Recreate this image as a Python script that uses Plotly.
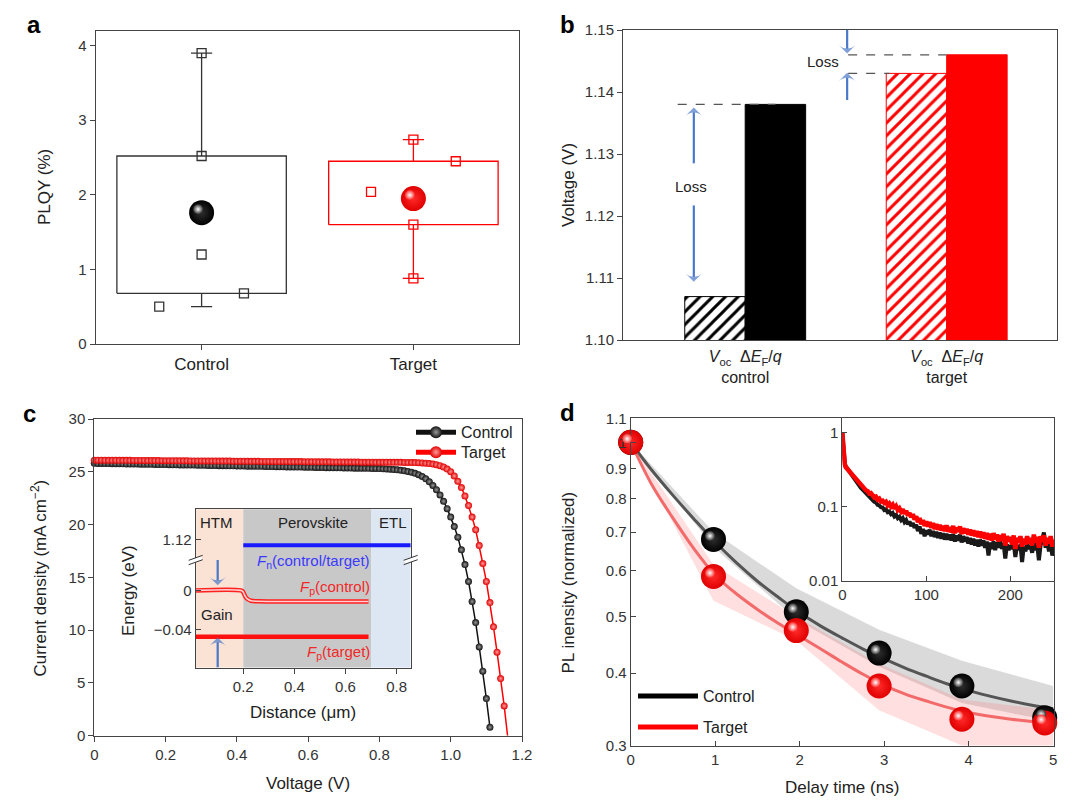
import math
import plotly.graph_objects as go

# page body has an 8 px margin; the figure is sized to fit the 1080x806 window
OX, OY = 8, 8
FW, FH = 1072, 798
FONT = "Liberation Sans, Arial, sans-serif"
INK = "#222222"
AXC = "#444444"
RED = "#ff0000"
BLUE_ARROW = "#4a78c8"

# ---------------- Panel a : PLQY ----------------
groups = ["Control", "Target"]
box_low = [0.68, 1.60]
box_high = [2.52, 2.45]
whisker_low = [0.50, 0.88]
whisker_high = [3.90, 2.74]
plqy_mean = [1.76, 1.95]
pts_dx = [[0.0, 0.0, 0.0, -0.2, 0.2], [0.0, 0.2, -0.2, 0.0, 0.0]]
pts_y = [[3.90, 2.52, 1.20, 0.50, 0.68], [2.74, 2.45, 2.04, 1.60, 0.88]]

# ---------------- Panel b : Voc vs dEF/q ----------------
voc = [1.107, 1.143]
def_q = [1.138, 1.146]

# ---------------- Panel c : J-V ----------------
jv_step = 0.01
jv_control = [
    25.80, 25.79, 25.79, 25.78, 25.78, 25.77, 25.76, 25.76, 25.75, 25.74,
    25.74, 25.73, 25.73, 25.72, 25.71, 25.71, 25.70, 25.69, 25.69, 25.68,
    25.68, 25.67, 25.66, 25.66, 25.65, 25.64, 25.64, 25.63, 25.63, 25.62,
    25.61, 25.61, 25.60, 25.59, 25.59, 25.58, 25.58, 25.57, 25.56, 25.56,
    25.55, 25.54, 25.54, 25.53, 25.53, 25.52, 25.51, 25.51, 25.50, 25.49,
    25.49, 25.48, 25.48, 25.47, 25.46, 25.46, 25.45, 25.44, 25.44, 25.43,
    25.43, 25.42, 25.41, 25.41, 25.40, 25.39, 25.39, 25.38, 25.38, 25.37,
    25.36, 25.36, 25.35, 25.34, 25.34, 25.33, 25.33, 25.32, 25.31, 25.31,
    25.30, 25.28, 25.26, 25.24, 25.21, 25.18, 25.14, 25.09, 25.03, 24.95,
    24.85, 24.72, 24.55, 24.33, 24.05, 23.70, 23.30, 22.80, 22.20, 21.50,
    20.70, 19.80, 18.80, 17.60, 16.20, 14.60, 12.70, 10.70, 8.40, 6.10,
    3.50, 0.78]
jv_target = [
    26.10, 26.10, 26.10, 26.09, 26.09, 26.09, 26.09, 26.08, 26.08, 26.08,
    26.08, 26.07, 26.07, 26.07, 26.07, 26.06, 26.06, 26.06, 26.06, 26.05,
    26.05, 26.05, 26.05, 26.04, 26.04, 26.04, 26.04, 26.03, 26.03, 26.03,
    26.03, 26.02, 26.02, 26.02, 26.02, 26.01, 26.01, 26.01, 26.01, 26.00,
    26.00, 26.00, 26.00, 25.99, 25.99, 25.99, 25.99, 25.98, 25.98, 25.98,
    25.98, 25.97, 25.97, 25.97, 25.97, 25.96, 25.96, 25.96, 25.96, 25.95,
    25.95, 25.95, 25.95, 25.94, 25.94, 25.94, 25.94, 25.93, 25.93, 25.93,
    25.93, 25.92, 25.92, 25.92, 25.92, 25.91, 25.91, 25.91, 25.91, 25.90,
    25.90, 25.90, 25.90, 25.89, 25.89, 25.89, 25.89, 25.88, 25.88, 25.88,
    25.87, 25.86, 25.84, 25.81, 25.78, 25.73, 25.67, 25.58, 25.45, 25.25,
    25.00, 24.60, 24.10, 23.50, 22.70, 21.80, 20.70, 19.50, 18.00, 16.30,
    14.60, 12.60, 10.30, 7.90, 5.40, 2.80, -0.16]

# ---------------- Panel c inset : quasi-Fermi levels ----------------
layer_names = ["HTM", "Perovskite", "ETL"]
layer_edges = [0.0, 0.2, 0.7, 0.855]
layer_colors = ["#fae3d5", "#c8c8c8", "#dce7f3"]
break_shift = 1.0684            # upper (broken) segment shown shifted down
inset_tick_E = [1.12, 0.0, -0.04]
inset_tick_text = ["1.12", "0", "\u22120.04"]
fn_x = [0.2, 0.855]
fn_E = [1.114, 1.114]
fpc_x = [0.014, 0.19, 0.198, 0.204, 0.21, 0.218, 0.23, 0.26, 0.40, 0.69]
fpc_E = [0.0, 0.0, -0.001, -0.004, -0.007, -0.009, -0.0105, -0.011, -0.0112, -0.0112]
fpt_x = [0.014, 0.69]
fpt_E = [-0.047, -0.047]

# ---------------- Panel d : TRPL ----------------
delay = [0, 0.98, 1.96, 2.94, 3.92, 4.9]
pl_control = [1.0, 0.68, 0.51, 0.433, 0.38, 0.335]
pl_target = [1.0, 0.587, 0.4735, 0.38, 0.333, 0.328]
fit_t = [0, 0.25, 0.5, 0.75, 1, 1.25, 1.5, 1.75, 2, 2.25, 2.5, 2.75, 3, 3.25,
         3.5, 3.75, 4, 4.25, 4.5, 4.75, 5]
fit_control = [1.0, 0.895, 0.81, 0.737, 0.673, 0.620, 0.576, 0.540, 0.508, 0.482,
               0.460, 0.440, 0.423, 0.408, 0.395, 0.383, 0.373, 0.365, 0.358, 0.352, 0.347]
fit_target = [1.0, 0.845, 0.74, 0.655, 0.59, 0.548, 0.515, 0.487, 0.463, 0.440,
              0.418, 0.398, 0.381, 0.368, 0.358, 0.349, 0.342, 0.337, 0.333, 0.330, 0.327]
band_t = [0, 0.98, 1.96, 2.94, 3.92, 5.0]
band_control_hi = [1.0, 0.70, 0.56, 0.475, 0.42, 0.38]
band_control_lo = [1.0, 0.66, 0.495, 0.41, 0.355, 0.33]
band_target_hi = [1.0, 0.615, 0.50, 0.415, 0.36, 0.345]
band_target_lo = [1.0, 0.533, 0.455, 0.345, 0.30, 0.285]
d_ticks = [0.3, 0.4, 0.5, 0.6, 0.7, 0.8, 0.9, 1.0, 1.1]
d_ticktext = ["0.3", "0.4", "0.5", "0.6", "0.7", "0.8", "0.9", "1", "1.1"]

# inset d: long-time decay (ns, normalized)
decay_t_early = [0, 0.5, 1, 1.5, 2, 3, 4]
decay_step = 2
decay_t0 = 6
decay_target_early = [1.00, 0.78, 0.60, 0.49, 0.43, 0.37, 0.34]
decay_control_early = [1.00, 0.80, 0.62, 0.50, 0.44, 0.38, 0.35]
decay_target = [
    0.320, 0.300, 0.285, 0.262, 0.250, 0.232, 0.220, 0.205, 0.198, 0.183,
    0.178, 0.166, 0.162, 0.150, 0.152, 0.140, 0.133, 0.136, 0.124, 0.128,
    0.117, 0.120, 0.112, 0.116, 0.104, 0.110, 0.100, 0.106, 0.094, 0.101,
    0.090, 0.095, 0.086, 0.092, 0.080, 0.088, 0.076, 0.082, 0.072, 0.079,
    0.067, 0.074, 0.062, 0.070, 0.058, 0.066, 0.055, 0.063, 0.054, 0.062,
    0.052, 0.060, 0.050, 0.058, 0.049, 0.057, 0.048, 0.055, 0.047, 0.056,
    0.046, 0.053, 0.045, 0.055, 0.044, 0.052, 0.046, 0.054, 0.043, 0.051,
    0.044, 0.050, 0.042, 0.049, 0.041, 0.048, 0.040, 0.047, 0.039, 0.046,
    0.038, 0.045, 0.037, 0.044, 0.036, 0.043, 0.035, 0.044, 0.036, 0.042,
    0.034, 0.041, 0.035, 0.043, 0.030, 0.040, 0.034, 0.039, 0.031, 0.041,
    0.027, 0.038, 0.033, 0.040, 0.029, 0.037, 0.031, 0.040, 0.032, 0.038,
    0.030, 0.042, 0.033, 0.039, 0.028, 0.040, 0.034, 0.041, 0.030, 0.038,
    0.032, 0.040, 0.029, 0.036]
decay_control = [
    0.330, 0.305, 0.280, 0.258, 0.240, 0.222, 0.205, 0.193, 0.180, 0.170,
    0.160, 0.150, 0.143, 0.134, 0.130, 0.122, 0.116, 0.114, 0.106, 0.104,
    0.098, 0.097, 0.090, 0.092, 0.084, 0.086, 0.079, 0.082, 0.074, 0.077,
    0.070, 0.073, 0.066, 0.070, 0.062, 0.066, 0.058, 0.063, 0.055, 0.060,
    0.052, 0.057, 0.047, 0.054, 0.043, 0.050, 0.040, 0.048, 0.042, 0.049,
    0.040, 0.047, 0.039, 0.046, 0.038, 0.045, 0.037, 0.044, 0.036, 0.043,
    0.036, 0.042, 0.035, 0.043, 0.034, 0.041, 0.035, 0.042, 0.033, 0.040,
    0.034, 0.039, 0.032, 0.038, 0.031, 0.037, 0.030, 0.036, 0.029, 0.036,
    0.030, 0.035, 0.028, 0.034, 0.022, 0.033, 0.027, 0.034, 0.026, 0.033,
    0.028, 0.035, 0.027, 0.032, 0.020, 0.031, 0.026, 0.030, 0.027, 0.033,
    0.021, 0.030, 0.026, 0.031, 0.018, 0.029, 0.025, 0.032, 0.027, 0.030,
    0.024, 0.033, 0.026, 0.031, 0.019, 0.030, 0.036, 0.045, 0.028, 0.034,
    0.025, 0.031, 0.022, 0.029]


# ---------------- helpers (window pixels -> paper fractions) ----------------
def px(x):
    return (x - OX) / FW


def py(y):
    return 1 - (y - OY) / FH


def dom_x(a, b):
    return [px(a), px(b)]


def dom_y(top, bot):
    return [py(bot), py(top)]


def axis(**kw):
    base = dict(showline=True, linecolor=AXC, linewidth=1, mirror=True,
                showgrid=False, zeroline=False, ticks="outside", ticklen=5,
                tickcolor=AXC, tickwidth=1,
                tickfont=dict(size=15, color="#333333", family=FONT))
    base.update(kw)
    return base


fig = go.Figure()

# ================= Panel a =================
a_cols = ["#333333", RED]
a_sphere = [("#000000", "#2e2e2e"), ("#e00000", "#ff2a2a")]
for i, g in enumerate(groups):
    c = a_cols[i]
    lo, hi = box_low[i], box_high[i]
    fig.add_trace(go.Scatter(
        x=[i - 0.4, i + 0.4, i + 0.4, i - 0.4, i - 0.4], y=[lo, lo, hi, hi, lo],
        mode="lines", line=dict(color=c, width=1.3), showlegend=False,
        hoverinfo="skip", xaxis="x", yaxis="y"))
    wl, wh = whisker_low[i], whisker_high[i]
    fig.add_trace(go.Scatter(
        x=[i, i, None, i, i, None, i - 0.05, i + 0.05, None, i - 0.05, i + 0.05],
        y=[hi, wh, None, lo, wl, None, wh, wh, None, wl, wl],
        mode="lines", line=dict(color=c, width=1.3), showlegend=False,
        hoverinfo="skip", xaxis="x", yaxis="y"))
    fig.add_trace(go.Scatter(
        x=[i + d for d in pts_dx[i]], y=pts_y[i], mode="markers",
        marker=dict(symbol="square-open", size=9, color=c, line=dict(width=1.3, color=c)),
        showlegend=False, xaxis="x", yaxis="y", cliponaxis=False))
    edge, centre = a_sphere[i]
    fig.add_trace(go.Scatter(
        x=[i], y=[plqy_mean[i]], mode="markers",
        marker=dict(size=25, color=edge, gradient=dict(type="radial", color=centre),
                    line=dict(width=0)),
        showlegend=False, xaxis="x", yaxis="y", cliponaxis=False))
    fig.add_trace(go.Scatter(
        x=[i], y=[plqy_mean[i]], mode="markers",
        marker=dict(size=10, color=centre, gradient=dict(type="radial", color="#ffffff"),
                    line=dict(width=0)),
        showlegend=False, xaxis="x7", yaxis="y7", cliponaxis=False, hoverinfo="skip"))

# ================= Panel b =================
b_cols = ["#000000", RED]
fig.add_trace(go.Bar(
    x=[0, 1], y=voc, width=0.3, offset=-0.3, xaxis="x2", yaxis="y2",
    marker=dict(color=b_cols, line=dict(color=b_cols, width=1),
                pattern=dict(shape="/", fgcolor="#ffffff", bgcolor=b_cols,
                             size=9, solidity=0.33, fillmode="replace")),
    showlegend=False, name="Voc"))
fig.add_trace(go.Bar(
    x=[0, 1], y=def_q, width=0.3, offset=0.0, xaxis="x2", yaxis="y2",
    marker=dict(color=b_cols, line=dict(color=b_cols, width=1)),
    showlegend=False, name="dEF/q"))
fig.add_trace(go.Scatter(
    x=[-0.335, 0.15, None, 0.511, 1.0, None, 0.511, 0.716],
    y=[def_q[0], def_q[0], None, def_q[1], def_q[1], None, voc[1], voc[1]],
    mode="lines", line=dict(color="#555555", width=1.2, dash="dash"),
    showlegend=False, hoverinfo="skip", xaxis="x2", yaxis="y2"))


def arrow(xt, yt, xh, yh, xa, ya):
    fig.add_trace(go.Scatter(
        x=[xt, xh], y=[yt, yh], mode="lines+markers",
        line=dict(color=BLUE_ARROW, width=2.2),
        marker=dict(symbol="arrow-wide", angleref="previous", size=[0, 12],
                    color=BLUE_ARROW, line=dict(width=0)),
        showlegend=False, hoverinfo="skip", xaxis=xa, yaxis=ya, cliponaxis=False))


arrow(-0.255, 1.1285, -0.255, 1.1375, "x2", "y2")
arrow(-0.255, 1.1217, -0.255, 1.1094, "x2", "y2")
arrow(0.506, 1.1500, 0.506, 1.1462, "x2", "y2")
arrow(0.506, 1.1387, 0.506, 1.1431, "x2", "y2")

# ================= Panel c =================
vc = [round(i * jv_step, 2) for i in range(len(jv_control))]
vt = [round(i * jv_step, 2) for i in range(len(jv_target))]
fig.add_trace(go.Scatter(
    x=vc, y=jv_control, mode="lines+markers", name="Control",
    line=dict(color="#111111", width=1.5),
    marker=dict(size=7, color="#111111", gradient=dict(type="radial", color="#9a9a9a")),
    xaxis="x3", yaxis="y3", legend="legend", cliponaxis=False))
fig.add_trace(go.Scatter(
    x=vt, y=jv_target, mode="lines+markers", name="Target",
    line=dict(color=RED, width=1.5),
    marker=dict(size=7, color="#e00000", gradient=dict(type="radial", color="#ff9a9a")),
    xaxis="x3", yaxis="y3", legend="legend4", cliponaxis=False))

# ================= Panel c inset =================
fig.add_trace(go.Scatter(
    x=fn_x, y=[e - break_shift for e in fn_E], mode="lines",
    line=dict(color="#1a1aff", width=4), showlegend=False, xaxis="x4", yaxis="y4"))
fig.add_trace(go.Scatter(
    x=fpc_x, y=fpc_E, mode="lines", line=dict(color="#ff2020", width=4.5, shape="spline"),
    showlegend=False, xaxis="x4", yaxis="y4"))
fig.add_trace(go.Scatter(
    x=fpc_x, y=fpc_E, mode="lines", line=dict(color="#ffd0d0", width=1.6, shape="spline"),
    showlegend=False, xaxis="x4", yaxis="y4"))
fig.add_trace(go.Scatter(
    x=fpt_x, y=fpt_E, mode="lines", line=dict(color="#ff1010", width=4.5),
    showlegend=False, xaxis="x4", yaxis="y4"))
arrow(0.1, 0.0306, 0.1, 0.0051, "x4", "y4")
arrow(0.1, -0.078, 0.1, -0.0476, "x4", "y4")

# ================= Panel d =================
fig.add_trace(go.Scatter(
    x=band_t + band_t[::-1], y=band_control_hi + band_control_lo[::-1],
    fill="toself", fillcolor="rgba(140,140,140,0.32)", line=dict(width=0),
    mode="lines", showlegend=False, hoverinfo="skip", xaxis="x5", yaxis="y5"))
fig.add_trace(go.Scatter(
    x=band_t + band_t[::-1], y=band_target_hi + band_target_lo[::-1],
    fill="toself", fillcolor="rgba(255,110,110,0.22)", line=dict(width=0),
    mode="lines", showlegend=False, hoverinfo="skip", xaxis="x5", yaxis="y5"))
fig.add_trace(go.Scatter(
    x=fit_t, y=fit_control, mode="lines", line=dict(color="#555555", width=3, shape="spline"),
    showlegend=False, xaxis="x5", yaxis="y5"))
fig.add_trace(go.Scatter(
    x=fit_t, y=fit_target, mode="lines", line=dict(color="#f26a6a", width=3, shape="spline"),
    showlegend=False, xaxis="x5", yaxis="y5"))
for ys, edge, centre in [(pl_control, "#000000", "#2e2e2e"), (pl_target, "#e00000", "#ff2a2a")]:
    fig.add_trace(go.Scatter(
        x=delay, y=ys, mode="markers",
        marker=dict(size=25, color=edge, gradient=dict(type="radial", color=centre),
                    line=dict(width=0)),
        showlegend=False, xaxis="x5", yaxis="y5", cliponaxis=False))
    fig.add_trace(go.Scatter(
        x=delay, y=ys, mode="markers",
        marker=dict(size=10, color=centre, gradient=dict(type="radial", color="#ffffff"),
                    line=dict(width=0)),
        showlegend=False, xaxis="x8", yaxis="y8", cliponaxis=False, hoverinfo="skip"))
fig.add_trace(go.Scatter(x=[None], y=[None], mode="lines", name="Control",
                         line=dict(color="#000000", width=5), xaxis="x5", yaxis="y5",
                         legend="legend2"))
fig.add_trace(go.Scatter(x=[None], y=[None], mode="lines", name="Target",
                         line=dict(color=RED, width=5), xaxis="x5", yaxis="y5",
                         legend="legend3"))

# ================= Panel d inset =================
t_ctrl = decay_t_early + [decay_t0 + decay_step * i for i in range(len(decay_control))]
t_tgt = decay_t_early + [decay_t0 + decay_step * i for i in range(len(decay_target))]
fig.add_trace(go.Scatter(
    x=t_ctrl, y=decay_control_early + decay_control, mode="lines",
    line=dict(color="#1a1a1a", width=4), showlegend=False, xaxis="x6", yaxis="y6"))
fig.add_trace(go.Scatter(
    x=t_tgt, y=decay_target_early + decay_target, mode="lines",
    line=dict(color=RED, width=4.5), showlegend=False, xaxis="x6", yaxis="y6"))

# ================= Axes =================
a_dx, a_dy = dom_x(95.7, 519.3), dom_y(30.7, 344)
d_dx, d_dy = dom_x(630.7, 1054), dom_y(418.3, 745.5)
sx, sy = 3.5 / FW, 3.5 / FH
layout_axes = dict(
    xaxis=axis(domain=a_dx, range=[-0.5, 1.5], tickvals=[0, 1], ticktext=groups,
               tickfont=dict(size=17, color=INK, family=FONT), anchor="y"),
    yaxis=axis(domain=a_dy, range=[0, 4.2], tickvals=[0, 1, 2, 3, 4], anchor="x"),
    xaxis2=axis(domain=dom_x(623, 1057), range=[-0.6065, 1.5475], tickvals=[0, 1],
                ticktext=[f"<i>V</i><sub>oc</sub>  Δ<i>E</i><sub>F</sub>/<i>q</i><br>{g.lower()}"
                          for g in groups],
                ticks="outside", ticklen=2, tickcolor="rgba(0,0,0,0)",
                tickfont=dict(size=16, color=INK, family=FONT), anchor="y2"),
    yaxis2=axis(domain=dom_y(30, 340), range=[1.10, 1.15], dtick=0.01, tickformat=".2f",
                anchor="x2"),
    xaxis3=axis(domain=dom_x(94.3, 522), range=[0, 1.2],
                tickvals=[0, 0.2, 0.4, 0.6, 0.8, 1.0, 1.2],
                ticktext=["0", "0.2", "0.4", "0.6", "0.8", "1.0", "1.2"], anchor="y3"),
    yaxis3=axis(domain=dom_y(419, 735.5), range=[0, 30], dtick=5, anchor="x3"),
    xaxis4=axis(domain=dom_x(195.7, 410.7), range=[0.014, 0.855],
                tickvals=[0.2, 0.4, 0.6, 0.8], anchor="y4"),
    yaxis4=axis(domain=dom_y(509.3, 667.5), range=[-0.078, 0.082],
                tickvals=[e - break_shift if e > 0.5 else e for e in inset_tick_E],
                ticktext=inset_tick_text, ticks="inside", anchor="x4"),
    xaxis5=axis(domain=d_dx, range=[0, 5.01], dtick=1, ticks="inside", anchor="y5"),
    yaxis5=axis(domain=d_dy, type="log", range=[math.log10(0.3), math.log10(1.1)],
                tickvals=d_ticks, ticktext=d_ticktext, ticks="inside", anchor="x5"),
    xaxis6=axis(domain=dom_x(842.3, 1054), range=[0, 252], tickvals=[0, 100, 200],
                ticks="inside", anchor="y6"),
    yaxis6=axis(domain=dom_y(418.3, 581), type="log", range=[-2, math.log10(1.54)],
                tickvals=[0.01, 0.1, 1], ticktext=["0.01", "0.1", "1"], ticks="inside",
                anchor="x6"),
    xaxis7=dict(domain=[a_dx[0] - sx, a_dx[1] - sx], range=[-0.5, 1.5], visible=False,
                anchor="y7"),
    yaxis7=dict(domain=[a_dy[0] + sy, a_dy[1] + sy], range=[0, 4.2], visible=False,
                anchor="x7"),
    xaxis8=dict(domain=[d_dx[0] - sx, d_dx[1] - sx], range=[0, 5.01], visible=False,
                anchor="y8"),
    yaxis8=dict(domain=[d_dy[0] + sy, d_dy[1] + sy], type="log",
                range=[math.log10(0.3), math.log10(1.1)], visible=False, anchor="x8"),
)

# ================= Shapes =================
shapes = []
for k in range(len(layer_names)):
    shapes.append(dict(type="rect", xref="x4", yref="y4 domain",
                       x0=max(layer_edges[k], 0.014), x1=layer_edges[k + 1], y0=0, y1=1,
                       fillcolor=layer_colors[k], line=dict(width=0), layer="below"))
for bx in (195.7, 410.7):
    by = 560
    shapes.append(dict(type="line", xref="paper", yref="paper",
                       x0=px(bx - 6), y0=py(by + 2.2), x1=px(bx + 6), y1=py(by - 2.2),
                       line=dict(color="#ffffff", width=4), layer="above"))
    for off in (-2.2, 2.2):
        shapes.append(dict(type="line", xref="paper", yref="paper",
                           x0=px(bx - 7), y0=py(by + 2.5 + off), x1=px(bx + 7),
                           y1=py(by - 2.5 + off), line=dict(color="#333333", width=1),
                           layer="above"))

# ================= Annotations =================
ann = []


def text(x, y, s, size=17, color=INK, angle=0, xanchor="center", bold=False):
    ann.append(dict(x=px(x), y=py(y), xref="paper", yref="paper", text=s, showarrow=False,
                    textangle=angle, xanchor=xanchor, yanchor="middle",
                    font=dict(size=size, color=color, family=FONT,
                              weight="bold" if bold else "normal")))


text(34, 24, "a", size=24, color="#000", bold=True)
text(567, 24, "b", size=24, color="#000", bold=True)
text(29, 413, "c", size=24, color="#000", bold=True)
text(567, 412, "d", size=24, color="#000", bold=True)

text(44, 187, "PLQY (%)", angle=-90)
text(569, 185, "Voltage (V)", angle=-90)
text(38.6, 578, "Current density (mA cm<sup>\u22122</sup>)", angle=-90)
text(308, 783, "Voltage (V)")
text(128, 591, "Energy (eV)", angle=-90)
text(303, 712, "Distance (\u03bcm)")
text(567.5, 582, "PL inensity (normalized)", angle=-90)
text(842, 787, "Delay time (ns)")


def dtext(x, y, s, xr, yr, size=15, color=INK, xanchor="center"):
    ann.append(dict(x=x, y=y, xref=xr, yref=yr, text=s, showarrow=False,
                    xanchor=xanchor, yanchor="middle",
                    font=dict(size=size, color=color, family=FONT)))


dtext(-0.267, 1.1247, "Loss", "x2", "y2")
dtext(0.3885, 1.145, "Loss", "x2", "y2")
dtext(0.096, 0.0685, layer_names[0], "x4", "y4")
dtext(0.471, 0.0685, layer_names[1], "x4", "y4")
dtext(0.784, 0.0685, layer_names[2], "x4", "y4")
dtext(0.705, 0.0295, "<i>F</i><sub>n</sub>(control/target)", "x4", "y4",
      color="#3a3aff", xanchor="right")
dtext(0.705, 0.003, "<i>F</i><sub>p</sub>(control)", "x4", "y4", color="#f02828",
      xanchor="right")
dtext(0.705, -0.0628, "<i>F</i><sub>p</sub>(target)", "x4", "y4", color="#f02828",
      xanchor="right")
dtext(0.096, -0.0244, "Gain", "x4", "y4")

legend_common = dict(xanchor="left", yanchor="middle", bgcolor="rgba(0,0,0,0)",
                     borderwidth=0, font=dict(size=16, color=INK, family=FONT))

fig.update_layout(
    width=FW, height=FH, margin=dict(l=0, r=0, t=0, b=0),
    paper_bgcolor="white", plot_bgcolor="rgba(0,0,0,0)", template="none",
    font=dict(family=FONT, color=INK),
    shapes=shapes, annotations=ann, barmode="overlay",
    legend=dict(x=px(411), y=py(432.3), itemwidth=40, itemsizing="constant", **legend_common),
    legend4=dict(x=px(411), y=py(452.3), itemwidth=40, itemsizing="constant", **legend_common),
    legend2=dict(x=px(633), y=py(696), itemwidth=60, **legend_common),
    legend3=dict(x=px(633), y=py(727), itemwidth=60, **legend_common),
    **layout_axes,
)

fig.write_html("out.html")
